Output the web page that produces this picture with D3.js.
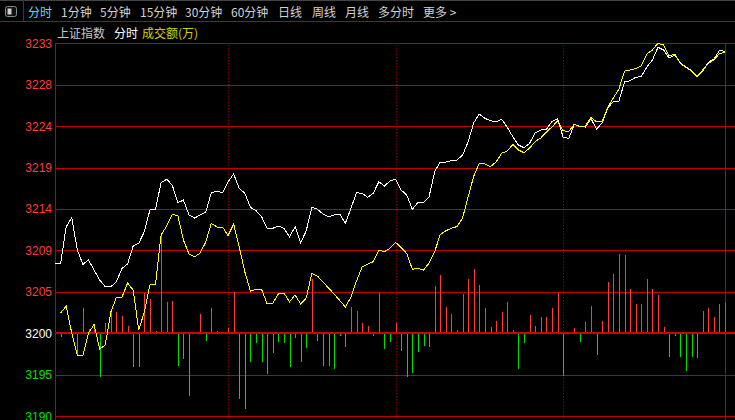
<!DOCTYPE html>
<html>
<head>
<meta charset="utf-8">
<script src="https://cdn.jsdelivr.net/npm/d3@7"></script>
<style>
body { margin: 0; background: #000; }
svg { display: block; }
</style>
</head>
<body>
<div id="chart"></div>
<script>
// toolbar + legend text
var tabs = ["分时", "1分钟", "5分钟", "15分钟", "30分钟", "60分钟", "日线", "周线", "月线", "多分时", "更多 >"];
var legendItems = ["上证指数", "分时", "成交额(万)"];

// price levels shown on the left axis (prev close is the white one)
var yTicks = [3190.3, 3195.05, 3199.8, 3204.55, 3209.3, 3214.05, 3218.8, 3223.55, 3228.3, 3233.05];
var prevClose = 3199.8;

// session dividers (10:30, 11:30/13:00, 14:00), in 2-minute steps
var dividers = [31, 61, 91];

// 上证指数, 2-minute samples
var indexLine = [
  3207.78, 3207.78, 3212.02, 3213.05, 3209.35, 3207.71, 3208.20, 3207.06, 3205.91, 3205.14,
  3205.14, 3205.72, 3207.25, 3207.75, 3209.81, 3210.12, 3211.45, 3213.94, 3214.02, 3217.07,
  3217.46, 3216.80, 3214.77, 3215.08, 3213.36, 3213.02, 3213.36, 3213.71, 3215.92, 3216.11,
  3215.92, 3217.18, 3218.06, 3216.42, 3215.85, 3214.25, 3213.86, 3213.17, 3211.84, 3211.84,
  3212.10, 3211.84, 3210.88, 3212.02, 3210.19, 3211.56, 3214.25, 3214.02, 3213.48, 3213.17,
  3213.36, 3213.48, 3212.41, 3214.13, 3215.92, 3215.85, 3215.39, 3215.85, 3217.18, 3216.69,
  3217.26, 3217.46, 3216.23, 3215.66, 3214.02, 3214.82, 3214.77, 3215.46, 3218.33, 3219.44,
  3219.44, 3219.59, 3219.67, 3220.24, 3221.77, 3223.95, 3224.94, 3224.45, 3224.17, 3224.06,
  3224.34, 3223.42, 3222.34, 3221.39, 3221.08, 3221.58, 3222.80, 3223.11, 3223.19, 3224.06,
  3224.40, 3222.31, 3222.13, 3223.74, 3223.51, 3223.45, 3224.43, 3223.19, 3223.95, 3225.60,
  3226.38, 3226.43, 3228.61, 3228.76, 3229.15, 3229.24, 3230.33, 3231.13, 3232.59, 3232.28,
  3231.36, 3231.71, 3230.79, 3230.33, 3229.93, 3229.19, 3229.87, 3230.85, 3231.25, 3232.22,
  3232.13
];

// yellow line
var leadLine = [
  null,    3202.13, 3202.93, 3199.83, 3197.31, 3197.31, 3199.83, 3200.81, 3198.00, 3198.46,
  3202.24, 3203.93, 3203.96, 3205.57, 3204.76, 3200.18, 3202.24, 3205.34, 3205.45, 3211.07,
  3212.10, 3213.42, 3213.31, 3210.50, 3208.89, 3208.58, 3209.01, 3210.27, 3212.41, 3211.99,
  3211.99, 3211.01, 3212.33, 3209.69, 3206.83, 3204.65, 3204.84, 3204.84, 3203.16, 3203.22,
  3204.31, 3204.42, 3203.42, 3204.19, 3203.16, 3203.85, 3206.68, 3206.37, 3205.68, 3204.99,
  3204.31, 3203.56, 3202.82, 3203.96, 3205.80, 3207.40, 3207.75, 3208.01, 3209.35, 3209.16,
  3209.55, 3210.23, 3209.64, 3208.95, 3207.14, 3207.25, 3207.06, 3207.86, 3209.16, 3211.13,
  3211.56, 3211.84, 3212.04, 3213.02, 3215.46, 3217.83, 3219.29, 3219.21, 3218.92, 3219.44,
  3220.44, 3220.70, 3221.45, 3220.82, 3220.51, 3221.04, 3221.79, 3222.19, 3222.88, 3223.45,
  3224.14, 3223.03, 3222.91, 3223.80, 3223.49, 3223.57, 3224.54, 3224.06, 3224.06, 3225.69,
  3226.78, 3227.81, 3229.87, 3229.99, 3230.16, 3230.45, 3231.82, 3232.28, 3233.06, 3232.85,
  3231.59, 3231.82, 3230.73, 3230.27, 3229.87, 3229.24, 3229.99, 3230.73, 3231.13, 3231.88,
  3231.99
];

// 成交额 change bars (relative units, + red / - green)
var amount = [
  0, -4, 0, -2, -21.7, 25.7, 4, 7, -43.3, 10,
  21, 21, 17.7, 7.7, -33.3, -34, 40.7, 34.3, 2.7, 97.3,
  31.7, 32.3, -32.3, -25.3, -62.3, 0, 19.3, -7.7, 25.7, 2.7,
  0, 5.7, 41.7, -66, -76, -28.3, -9.3, -28.3, -41, -19.3,
  -8.3, -9.3, -34, -4.3, -29, -15, 54.3, -7.3, -32.3, -32.3,
  -36, -2.3, -13.3, 26.3, 22.3, 10.7, 7.7, -2.3, 40.7, -16,
  -8.3, 10.7, -17.3, -43.3, -40, -18.3, -12.3, -14, 47.5, 58.3,
  26.5, 19.3, 3.3, 39.3, 54.3, 64.3, 48.3, 25.7, 6.7, 12.3,
  21, 31.3, 3.3, -36, -9.3, 18.3, 7.3, 16.3, 16.3, 25.7,
  40.3, -42.7, 0, 5.3, -8.3, 11, 27.3, -21.3, 12.3, 51.3,
  59.3, 79.3, 78.3, 44.3, 29.3, 29.3, 54.3, 44.3, 38.3, 6,
  -23.3, -2.3, -23.3, -37.3, -23.3, -24.3, 22.3, 25.3, 16.3, 29.3,
  30.7
];

var width = 735, height = 420;
var plot = { left: 55, right: 725, top: 43.3, bottom: 416.2 };
var gridColor = "#c00000";
var cjk = "'Noto Sans CJK SC', sans-serif";

var svg = d3.select("#chart").append("svg")
  .attr("width", width)
  .attr("height", height)
  .style("background", "#000");

var x = d3.scaleLinear().domain([0, 120]).range([plot.left, plot.right]);
var y = d3.scaleLinear()
  .domain([yTicks[0], yTicks[yTicks.length - 1]])
  .range([plot.bottom, plot.top]);
var y0 = y(prevClose);
var yAmt = d3.scaleLinear().domain([-100, 100]).range([y0 + 100, y0 - 100]);

// ---- toolbar
var bar = svg.append("g");
bar.append("line")
  .attr("x1", 0).attr("x2", width).attr("y1", 0.5).attr("y2", 0.5)
  .attr("stroke", "#444");
bar.append("line")
  .attr("x1", 0).attr("x2", width).attr("y1", 21.5).attr("y2", 21.5)
  .attr("stroke", gridColor);
bar.append("line")
  .attr("x1", 23.5).attr("x2", 23.5).attr("y1", 0).attr("y2", 21)
  .attr("stroke", gridColor);
bar.append("rect")
  .attr("x", 5.5).attr("y", 6.5).attr("width", 11).attr("height", 10).attr("rx", 2)
  .attr("fill", "#111").attr("stroke", "#8a8a8a");
bar.append("rect")
  .attr("x", 7.5).attr("y", 8.5).attr("width", 4).attr("height", 6)
  .attr("fill", "#d0d0d0");

var tabX = [28, 61, 100, 140, 185, 231, 278, 312, 345, 378, 423];
bar.selectAll(".tab")
  .data(tabs)
  .enter().append("text")
  .attr("class", "tab")
  .attr("x", function(d, i) { return tabX[i]; })
  .attr("y", 16.5)
  .attr("font-family", cjk)
  .attr("font-size", 12)
  .attr("fill", function(d, i) { return i == 0 ? "#55dcff" : "#d2d2d2"; })
  .text(function(d) { return d; });

// ---- legend
var legendX = [57, 114, 142];
var legendColor = ["#c8c8c8", "#ffffff", "#d2d200"];
svg.selectAll(".legend")
  .data(legendItems)
  .enter().append("text")
  .attr("class", "legend")
  .attr("x", function(d, i) { return legendX[i]; })
  .attr("y", 38)
  .attr("font-family", cjk)
  .attr("font-size", 12)
  .attr("fill", function(d, i) { return legendColor[i]; })
  .text(function(d) { return d; });

// ---- grid + y axis
var yAxis = svg.append("g")
  .attr("transform", "translate(" + plot.left + ",0)")
  .call(d3.axisLeft(y)
    .tickValues(yTicks)
    .tickFormat(d3.format(".0f"))
    .tickSize(0)
    .tickPadding(3));
yAxis.select(".domain").remove();
yAxis.selectAll("text")
  .attr("font-family", "'Liberation Sans', Arial, sans-serif")
  .attr("font-size", 12)
  .attr("fill", function(d) {
    if (Math.abs(d - prevClose) < 0.01) return "#ffffff";
    return d > prevClose ? "#ff3c3c" : "#00e000";
  });

svg.append("g").selectAll(".grid")
  .data(yTicks)
  .enter().append("line")
  .attr("class", "grid")
  .attr("x1", plot.left).attr("x2", width)
  .attr("y1", function(d) { return Math.round(y(d)) + 0.5; })
  .attr("y2", function(d) { return Math.round(y(d)) + 0.5; })
  .attr("stroke", gridColor)
  .attr("stroke-width", 1);

// frame
svg.append("line")
  .attr("x1", plot.left + 0.5).attr("x2", plot.left + 0.5)
  .attr("y1", Math.round(plot.top)).attr("y2", height)
  .attr("stroke", gridColor);
svg.append("line")
  .attr("x1", plot.right + 0.5).attr("x2", plot.right + 0.5)
  .attr("y1", Math.round(plot.top)).attr("y2", height)
  .attr("stroke", gridColor);

// dotted session dividers
svg.append("g").selectAll(".divider")
  .data(dividers)
  .enter().append("line")
  .attr("class", "divider")
  .attr("x1", function(d) { return Math.round(x(d)) + 0.5; })
  .attr("x2", function(d) { return Math.round(x(d)) + 0.5; })
  .attr("y1", plot.top + 2).attr("y2", height)
  .attr("stroke", gridColor)
  .attr("stroke-dasharray", "1,2");

// ---- amount bars
svg.append("g").selectAll(".amt")
  .data(amount.map(function(v, i) { return { i: i, v: v }; }).filter(function(d) { return d.v != 0; }))
  .enter().append("line")
  .attr("class", "amt")
  .attr("x1", function(d) { return Math.round(x(d.i)) + 0.5; })
  .attr("x2", function(d) { return Math.round(x(d.i)) + 0.5; })
  .attr("y1", yAmt(0))
  .attr("y2", function(d) { return yAmt(d.v); })
  .attr("stroke", function(d) { return d.v > 0 ? "#ff3a3a" : "#00dd00"; })
  .attr("shape-rendering", "crispEdges");

// zero line (prev close), thicker
svg.append("line")
  .attr("x1", plot.left).attr("x2", width)
  .attr("y1", Math.round(y0)).attr("y2", Math.round(y0))
  .attr("stroke", "#d00000")
  .attr("stroke-width", 2);

// ---- lines
var line = d3.line()
  .defined(function(d) { return d != null; })
  .x(function(d, i) { return x(i); })
  .y(function(d) { return y(d); });

svg.append("path")
  .datum(indexLine)
  .attr("d", line)
  .attr("fill", "none")
  .attr("stroke", "#ffffff")
  .attr("stroke-width", 1)
  .attr("shape-rendering", "crispEdges");

svg.append("path")
  .datum(leadLine)
  .attr("d", line)
  .attr("fill", "none")
  .attr("stroke", "#ffff00")
  .attr("stroke-width", 1)
  .attr("shape-rendering", "crispEdges");
</script>
</body>
</html>
